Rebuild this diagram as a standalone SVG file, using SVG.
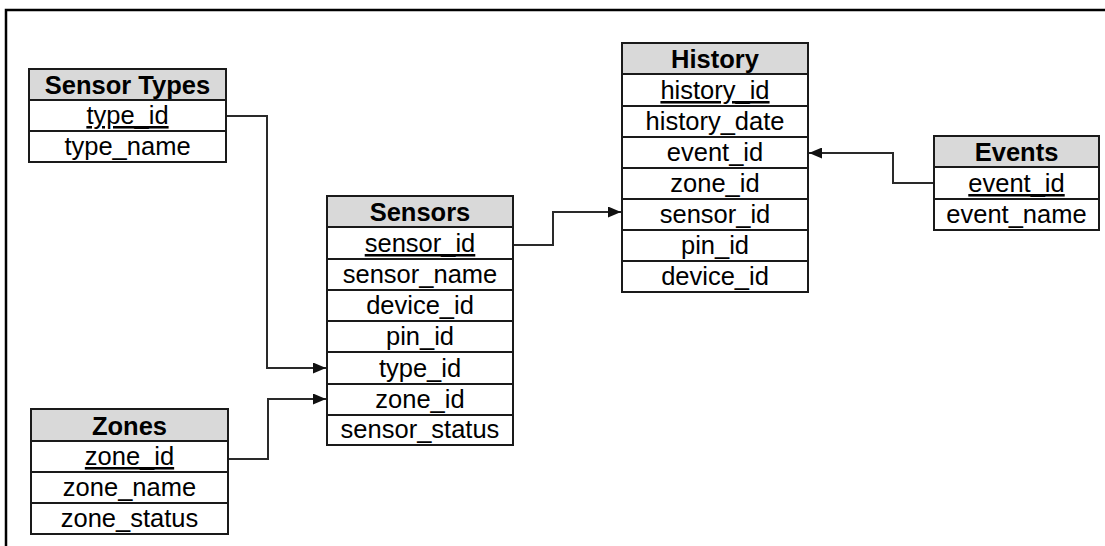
<svg xmlns="http://www.w3.org/2000/svg" width="1105" height="546" viewBox="0 0 1105 546">
  <style>
    .frame { fill: none; stroke: #000; stroke-width: 2.5; }
    .box { fill: #fff; stroke: #1a1a1a; stroke-width: 2; }
    .head { fill: #d9d9d9; stroke: #1a1a1a; stroke-width: 2; }
    .sep { stroke: #1a1a1a; stroke-width: 2; }
    .title { font-family: "Liberation Sans", Arial, sans-serif; font-size: 25.5px; font-weight: bold; fill: #000; text-anchor: middle; }
    .field { font-family: "Liberation Sans", Arial, sans-serif; font-size: 25.5px; fill: #000; text-anchor: middle; }
    .key { text-decoration: underline; }
    .link { fill: none; stroke: #2a2a2a; stroke-width: 2; }
    .tip { fill: #111; }
  </style>
  <defs>
    <marker id="arrow" viewBox="0 0 13 11" refX="13" refY="5.5" markerWidth="13" markerHeight="11" markerUnits="userSpaceOnUse" orient="auto">
      <path class="tip" d="M0,0 L13,5.5 L0,11 Z"/>
    </marker>
  </defs>

  <rect width="1105" height="546" fill="#fff"/>
  <path class="frame" d="M6,546 V10 H1105"/>

  <!-- foreign key links -->
  <g id="connectors">
    <path class="link" d="M226,116 H267 V368 H326" marker-end="url(#arrow)"/>
    <path class="link" d="M228,459 H268 V399 H326" marker-end="url(#arrow)"/>
    <path class="link" d="M513,245 H553 V212 H621" marker-end="url(#arrow)"/>
    <path class="link" d="M934,183 H893 V153 H809" marker-end="url(#arrow)"/>
  </g>

  <g id="sensor-types">
    <rect class="box" x="29" y="69" width="197" height="93"/>
    <rect class="head" x="29" y="69" width="197" height="31"/>
    <line class="sep" x1="29" y1="131" x2="226" y2="131"/>
    <text class="title" x="127.5" y="94">Sensor Types</text>
    <text class="field key" x="127.5" y="124">type_id</text>
    <text class="field" x="127.5" y="155">type_name</text>
  </g>

  <g id="zones">
    <rect class="box" x="31" y="409" width="197" height="125"/>
    <rect class="head" x="31" y="409" width="197" height="32"/>
    <line class="sep" x1="31" y1="472" x2="228" y2="472"/>
    <line class="sep" x1="31" y1="503" x2="228" y2="503"/>
    <text class="title" x="129.5" y="435">Zones</text>
    <text class="field key" x="129.5" y="465">zone_id</text>
    <text class="field" x="129.5" y="496">zone_name</text>
    <text class="field" x="129.5" y="527">zone_status</text>
  </g>

  <g id="sensors">
    <rect class="box" x="327" y="196" width="186" height="249"/>
    <rect class="head" x="327" y="196" width="186" height="31"/>
    <line class="sep" x1="327" y1="259" x2="513" y2="259"/>
    <line class="sep" x1="327" y1="290" x2="513" y2="290"/>
    <line class="sep" x1="327" y1="321" x2="513" y2="321"/>
    <line class="sep" x1="327" y1="352" x2="513" y2="352"/>
    <line class="sep" x1="327" y1="384" x2="513" y2="384"/>
    <line class="sep" x1="327" y1="415" x2="513" y2="415"/>
    <text class="title" x="420" y="221">Sensors</text>
    <text class="field key" x="420" y="252">sensor_id</text>
    <text class="field" x="420" y="283">sensor_name</text>
    <text class="field" x="420" y="314">device_id</text>
    <text class="field" x="420" y="345">pin_id</text>
    <text class="field" x="420" y="377">type_id</text>
    <text class="field" x="420" y="408">zone_id</text>
    <text class="field" x="420" y="438">sensor_status</text>
  </g>

  <g id="history">
    <rect class="box" x="622" y="43" width="186" height="249"/>
    <rect class="head" x="622" y="43" width="186" height="31"/>
    <line class="sep" x1="622" y1="106" x2="808" y2="106"/>
    <line class="sep" x1="622" y1="137" x2="808" y2="137"/>
    <line class="sep" x1="622" y1="168" x2="808" y2="168"/>
    <line class="sep" x1="622" y1="199" x2="808" y2="199"/>
    <line class="sep" x1="622" y1="230" x2="808" y2="230"/>
    <line class="sep" x1="622" y1="261" x2="808" y2="261"/>
    <text class="title" x="715" y="68">History</text>
    <text class="field key" x="715" y="99">history_id</text>
    <text class="field" x="715" y="130">history_date</text>
    <text class="field" x="715" y="161">event_id</text>
    <text class="field" x="715" y="192">zone_id</text>
    <text class="field" x="715" y="223">sensor_id</text>
    <text class="field" x="715" y="254">pin_id</text>
    <text class="field" x="715" y="285">device_id</text>
  </g>

  <g id="events">
    <rect class="box" x="934" y="136" width="165" height="94"/>
    <rect class="head" x="934" y="136" width="165" height="31"/>
    <line class="sep" x1="934" y1="199" x2="1099" y2="199"/>
    <text class="title" x="1016.5" y="161">Events</text>
    <text class="field key" x="1016.5" y="192">event_id</text>
    <text class="field" x="1016.5" y="223">event_name</text>
  </g>
</svg>
